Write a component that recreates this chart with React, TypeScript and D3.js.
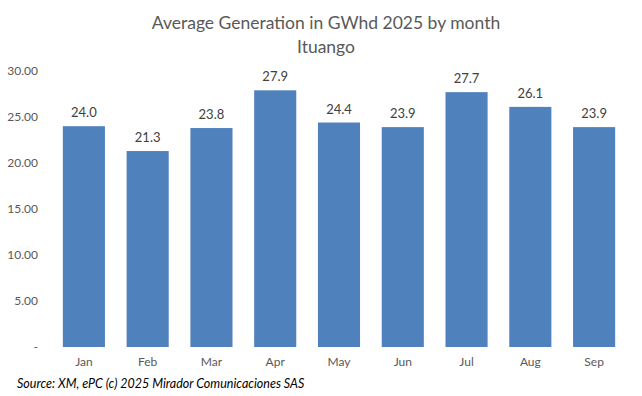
import React from 'react'
import { scaleBand, scaleLinear } from 'd3'

const months = ['Jan', 'Feb', 'Mar', 'Apr', 'May', 'Jun', 'Jul', 'Aug', 'Sep']
const generation = [24.0, 21.3, 23.8, 27.9, 24.4, 23.9, 27.7, 26.1, 23.9]
const yTicks = [0, 5, 10, 15, 20, 25, 30]

const W = 642
const H = 396
const font = 'Lato, "Open Sans", sans-serif'
const grey = '#595959'

const App = () => {
    const margin = { top: 71, right: 16, bottom: 49, left: 52 }

    const x = scaleBand<string>()
        .domain(months)
        .range([margin.left, W - margin.right])
        .paddingInner(0.34)
        .paddingOuter(0.17)

    const y = scaleLinear().domain([0, 30]).range([H - margin.bottom, margin.top])

    return (
        <svg width={W} height={H} style={{ position: 'absolute', left: 0, top: 0, background: '#fff' }}>
            <text x={326} y={29} textAnchor="middle" fontFamily={font} fontSize={17.5} fill={grey}>
                Average Generation in GWhd 2025 by month
            </text>
            <text x={326} y={53} textAnchor="middle" fontFamily={font} fontSize={17.5} fill={grey}>
                Ituango
            </text>

            {yTicks.map(t => (
                <text key={t} x={38} y={y(t)} dy="0.35em" textAnchor="end" fontFamily={font} fontSize={12} fill={grey}>
                    {t === 0 ? '-' : t.toFixed(2)}
                </text>
            ))}

            {months.map((m, i) => (
                <g key={m}>
                    <rect
                        x={x(m)}
                        y={y(generation[i])}
                        width={x.bandwidth()}
                        height={y(0) - y(generation[i])}
                        fill="#4f81bd"
                    />
                    <text
                        x={(x(m) || 0) + x.bandwidth() / 2}
                        y={y(generation[i]) - 9}
                        textAnchor="middle"
                        fontFamily={font}
                        fontSize={13}
                        fill="#404040"
                    >
                        {generation[i].toFixed(1)}
                    </text>
                    <text
                        x={(x(m) || 0) + x.bandwidth() / 2}
                        y={y(0) + 19}
                        textAnchor="middle"
                        fontFamily={font}
                        fontSize={12}
                        fill={grey}
                    >
                        {m}
                    </text>
                </g>
            ))}

            <text x={17} y={388} fontFamily={font} fontSize={12.5} fontStyle="italic" fill="#000">
                Source: XM, ePC (c) 2025 Mirador Comunicaciones SAS
            </text>
        </svg>
    )
}

export default App
